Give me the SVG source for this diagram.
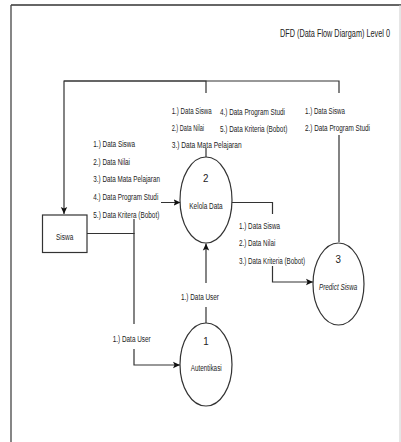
<svg xmlns="http://www.w3.org/2000/svg" width="401" height="442" viewBox="0 0 401 442">
<style>
text{font-family:"Liberation Sans",Arial,sans-serif;fill:#222;}
.lb{font-size:9.5px;}
.nm{font-size:11.5px;text-anchor:middle;}
.ttl{font-size:10.5px;}
.proc{fill:#fff;stroke:#333;stroke-width:1.2;}
.ent{fill:#fff;stroke:#333;stroke-width:1.2;}
.cn{fill:none;stroke:#333;stroke-width:1.2;}
.bg{fill:#fff;}
</style>
<defs>
<marker id="ah" markerWidth="8" markerHeight="8" refX="7" refY="4" orient="auto" markerUnits="userSpaceOnUse">
<path d="M0,0.8 L7,4 L0,7.2 L1.5,4 Z" fill="#111"/>
</marker>
</defs>
<rect width="401" height="442" fill="#fff"/>
<g id="frame">
<line x1="11" y1="5" x2="401" y2="5" stroke="#333" stroke-width="1.3"/>
<line x1="11" y1="5" x2="11" y2="442" stroke="#444" stroke-width="1.3"/>
<line x1="400" y1="5" x2="400" y2="442" stroke="#ccc" stroke-width="1"/>
</g>
<text class="ttl" transform="translate(280,37) scale(0.7,1)" textLength="157.1" lengthAdjust="spacingAndGlyphs">DFD (Data Flow Diargam) Level 0</text>
<g id="connectors">
<path class="cn" d="M206,157 V81 H64 V214" marker-end="url(#ah)"/>
<path class="cn" d="M339,242 V81 H64"/>
<path class="cn" d="M87,233.5 H134 V202.5 H180.5" marker-end="url(#ah)"/>
<path class="cn" d="M87,233.5 H134 V365 H180" marker-end="url(#ah)"/>
<path class="cn" d="M206,323 V243.5" marker-end="url(#ah)"/>
<path class="cn" d="M232,202.5 H272.5 V282 H313" marker-end="url(#ah)"/>
</g>
<g id="labels">
<rect class="bg" x="170" y="93" width="120" height="55"/>
<text class="lb" transform="translate(171.7,114) scale(0.68,1)" textLength="58.8" lengthAdjust="spacingAndGlyphs">1.) Data Siswa</text>
<text class="lb" transform="translate(171.7,130.5) scale(0.68,1)" textLength="47.5" lengthAdjust="spacingAndGlyphs">2.) Data Nilai</text>
<text class="lb" transform="translate(171.7,147.5) scale(0.68,1)" textLength="102.9" lengthAdjust="spacingAndGlyphs">3.) Data Mata Pelajaran</text>
<text class="lb" transform="translate(220,114.5) scale(0.68,1)" textLength="95.6" lengthAdjust="spacingAndGlyphs">4.) Data Program Studi</text>
<text class="lb" transform="translate(220,131.5) scale(0.68,1)" textLength="99" lengthAdjust="spacingAndGlyphs">5.) Data Kriteria (Bobot)</text>
<rect class="bg" x="303" y="93" width="70" height="42"/>
<text class="lb" transform="translate(305,114) scale(0.68,1)" textLength="58.8" lengthAdjust="spacingAndGlyphs">1.) Data Siswa</text>
<text class="lb" transform="translate(305,130.5) scale(0.68,1)" textLength="95.6" lengthAdjust="spacingAndGlyphs">2.) Data Program Studi</text>
<rect class="bg" x="91" y="135" width="70" height="84"/>
<text class="lb" transform="translate(93.3,146.8) scale(0.68,1)" textLength="61.3" lengthAdjust="spacingAndGlyphs">1.) Data Siswa</text>
<text class="lb" transform="translate(93.3,164.5) scale(0.68,1)" textLength="54" lengthAdjust="spacingAndGlyphs">2.) Data Nilai</text>
<text class="lb" transform="translate(93.3,181.8) scale(0.68,1)" textLength="98.1" lengthAdjust="spacingAndGlyphs">3.) Data Mata Pelajaran</text>
<text class="lb" transform="translate(93.3,199.5) scale(0.68,1)" textLength="95.6" lengthAdjust="spacingAndGlyphs">4.) Data Program Studi</text>
<text class="lb" transform="translate(93.3,217.5) scale(0.68,1)" textLength="97.1" lengthAdjust="spacingAndGlyphs">5.) Data Kritera (Bobot)</text>
<rect class="bg" x="237" y="214" width="70" height="52"/>
<text class="lb" transform="translate(239,228.5) scale(0.68,1)" textLength="60.3" lengthAdjust="spacingAndGlyphs">1.) Data Siswa</text>
<text class="lb" transform="translate(239,246.2) scale(0.68,1)" textLength="53.4" lengthAdjust="spacingAndGlyphs">2.) Data Nilai</text>
<text class="lb" transform="translate(239,263.5) scale(0.68,1)" textLength="97.1" lengthAdjust="spacingAndGlyphs">3.) Data Kriteria (Bobot)</text>
<rect class="bg" x="180" y="283" width="41" height="24"/>
<text class="lb" transform="translate(181,300.2) scale(0.68,1)" textLength="55.9" lengthAdjust="spacingAndGlyphs">1.) Data User</text>
<rect class="bg" x="111" y="324" width="42" height="25"/>
<text class="lb" transform="translate(112.7,341.8) scale(0.68,1)" textLength="55.9" lengthAdjust="spacingAndGlyphs">1.) Data User</text>
</g>
<g id="siswa">
<rect class="ent" x="42.5" y="215" width="44.5" height="37.5"/>
<text class="lb" transform="translate(56,239.5) scale(0.68,1)" textLength="25.4" lengthAdjust="spacingAndGlyphs">Siswa</text>
</g>
<g id="kelola-data">
<ellipse class="proc" cx="206" cy="200" rx="26" ry="43"/>
<text class="nm" transform="translate(205.7,182.3) scale(0.85,1)">2</text>
<text class="lb" transform="translate(189.3,208.5) scale(0.68,1)" textLength="49.1" lengthAdjust="spacingAndGlyphs">Kelola Data</text>
</g>
<g id="autentikasi">
<ellipse class="proc" cx="206" cy="364.5" rx="26" ry="41.5"/>
<text class="nm" transform="translate(206,344.8) scale(0.85,1)">1</text>
<text class="lb" transform="translate(190.7,370.8) scale(0.68,1)" textLength="45.6" lengthAdjust="spacingAndGlyphs">Autentikasi</text>
</g>
<g id="predict-siswa">
<ellipse class="proc" cx="338.5" cy="284" rx="25.5" ry="41"/>
<text class="nm" transform="translate(338.3,263.3) scale(0.85,1)">3</text>
<text class="lb" transform="translate(319,289.5) scale(0.68,1)" textLength="56.3" lengthAdjust="spacingAndGlyphs" font-style="italic">Predict Siswa</text>
</g>
</svg>
